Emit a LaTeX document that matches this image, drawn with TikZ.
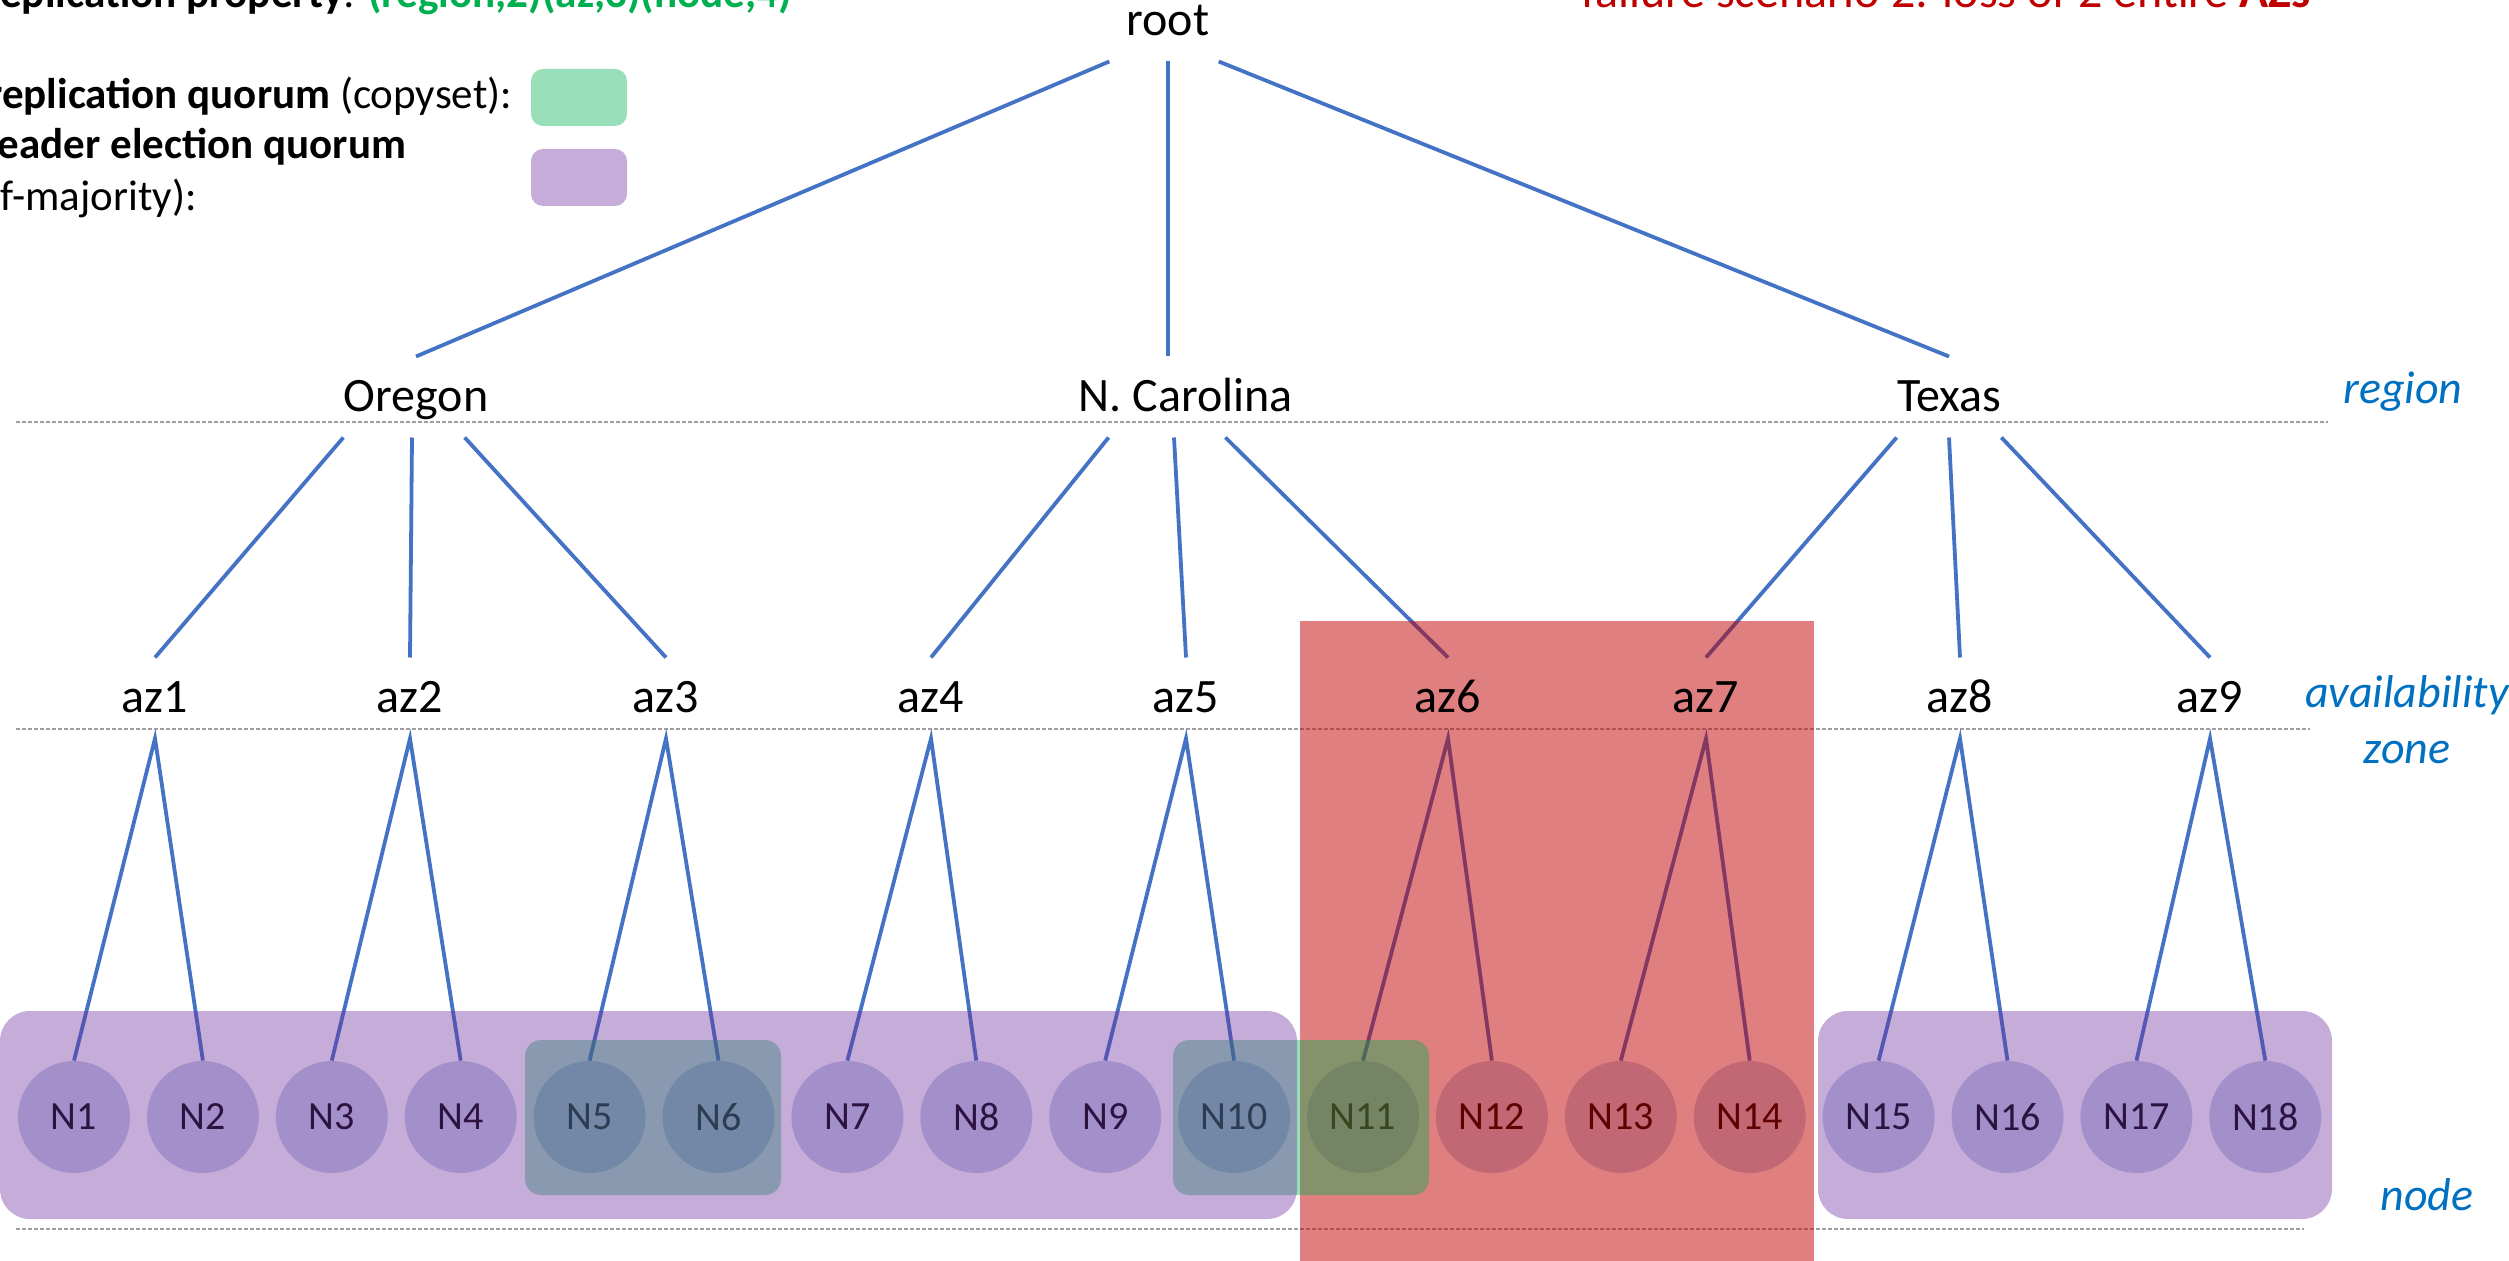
\documentclass[tikz,border=0pt]{standalone}
\usepackage{fontspec}
\setmainfont{Carlito}
\usepackage{tikz}
\pgfdeclarelayer{background}
\pgfdeclarelayer{foreground}
\pgfsetlayers{background,main,foreground}

\definecolor{linkblue}{HTML}{4472C4}
\definecolor{tagblue}{HTML}{0070C0}
\definecolor{quorumgreen}{HTML}{00B050}
\definecolor{electpurple}{HTML}{7030A0}
\definecolor{lossred}{HTML}{C00000}
\definecolor{hostfill}{HTML}{C5D0E9}
\definecolor{guidegray}{HTML}{A0A0A0}

\tikzset{
  tier/.style={font=\fontsize{24}{28}\selectfont, inner xsep=0pt, inner ysep=12.6pt, text height=14.9pt, text depth=0pt},
  host/.style={circle, fill=hostfill, minimum size=56pt, inner sep=0pt, font=\fontsize{20}{24}\selectfont},
  link/.style={draw=linkblue, line width=1.9pt},
  guide/.style={draw=guidegray, line width=0.6pt, dash pattern=on 2pt off 1pt},
  quorum/.style={fill=quorumgreen, fill opacity=0.4, rounded corners=8pt},
  elect/.style={fill=electpurple, fill opacity=0.4, rounded corners=15pt},
  lost/.style={fill=lossred, fill opacity=0.5},
  legend/.style={anchor=base west, inner sep=0pt, font=\fontsize{21.5}{25}\selectfont},
  side/.style={font=\fontsize{23}{28}\selectfont\itshape, text=tagblue, align=center}
}

\begin{document}
\begin{tikzpicture}[x=0.5pt,y=-0.5pt]
\useasboundingbox (0,0) rectangle (2509,1261);

\begin{pgfonlayer}{foreground}
% tree labels
\node[tier] (root) at (1168,21) {root};
\node[tier] (oregon) at (416,397) {Oregon};
\node[tier] (carolina) at (1186,397) {N. Carolina};
\node[tier] (texas) at (1949,397) {Texas};
\foreach \i/\x in {1/155,2/410,3/666,4/931,5/1186,6/1448,7/1706,8/1960,9/2210}
  \node[tier] (az\i) at (\x,698) {az\i};
% headings and legend
\node[legend, font=\fontsize{21.6}{25}\selectfont] (property) at (-15,8) {\textbf{replication property}: \textcolor{quorumgreen}{\textbf{(region,2)(az,3)(node,4)}}};
\node[anchor=base, inner sep=0pt, font=\fontsize{24}{28}\selectfont, text=lossred] (scenario) at (1946,8) {failure scenario 2: loss of 2 entire \textbf{AZs}};
\node[legend] (legrep) at (-13,109) {\textbf{replication quorum} (copyset):};
\node[legend] (legelect) at (-13,159) {\textbf{leader election quorum}};
\node[legend] (legmaj) at (-13,211) {(f-majority):};
% level names
\node[side] (lblregion) at (2403,392) {region};
\node[side] (lblaz) at (2407,720) {availability\\zone};
\node[side] (lblnode) at (2427,1195) {node};
\end{pgfonlayer}

\begin{pgfonlayer}{background}
\foreach \i in {1,...,18}
  \node[host] (n\i) at ({74+128.9*(\i-1)},1117) {N\i};
% guides
\draw[guide] (16,422) -- (2328,422);
\draw[guide] (16,729) -- (2310,729);
\draw[guide] (16,1229) -- (2304,1229);
% root to regions
\draw[link] ([xshift=-8.5pt]root.south west) -- (oregon.north);
\draw[link] (root.south) -- ([xshift=-9pt]carolina.north);
\draw[link] ([xshift=4.5pt]root.south east) -- (texas.north);
% regions to zones
\draw[link] (oregon.south west) -- (az1.north);
\draw[link] ([xshift=-2pt]oregon.south) -- (az2.north);
\draw[link] ([xshift=-12pt]oregon.south east) -- (az3.north);
\draw[link] ([xshift=15pt]carolina.south west) -- (az4.north);
\draw[link] ([xshift=-6pt]carolina.south) -- (az5.north);
\draw[link] ([xshift=-34pt]carolina.south east) -- (az6.north);
\draw[link] (texas.south west) -- (az7.north);
\draw[link] (texas.south) -- (az8.north);
\draw[link] (texas.south east) -- (az9.north);
% zones to nodes
\foreach \a/\l/\r in {1/1/2,2/3/4,3/5/6,4/7/8,5/9/10,6/11/12,7/13/14,8/15/16,9/17/18}
  \draw[link] (n\l.north) -- (az\a.south) -- (n\r.north);
\end{pgfonlayer}

% failed zones, copysets, majorities
\fill[lost] (1300,621) rectangle (1814,1261);
\fill[quorum] (525,1040) rectangle (781,1195);
\fill[quorum] (1173,1040) rectangle (1429,1195);
\fill[elect] (0,1011) rectangle (1297,1219);
\fill[elect] (1818,1011) rectangle (2332,1219);
\fill[quorum, rounded corners=6pt] (531,69) rectangle (627,126);
\fill[elect, rounded corners=6pt] (531,149) rectangle (627,206);
\end{tikzpicture}
\end{document}
